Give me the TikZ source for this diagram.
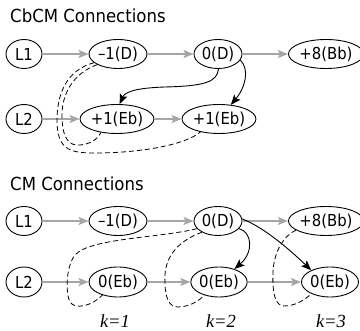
\documentclass[tikz,border=0pt]{standalone}
\usepackage{fontspec}
\setmainfont{DejaVu Sans}
\newfontfamily\nfont[FakeStretch=0.9]{DejaVu Sans}
\newfontfamily\tfont[FakeStretch=0.92]{DejaVu Sans}
\newfontfamily\kfont{Liberation Serif}
\usetikzlibrary{shapes.geometric,arrows.meta}
\begin{document}
\begin{tikzpicture}[x=1pt,y=-1pt,
  ell/.style={draw, ellipse, inner sep=0pt, minimum height=29pt, line width=0.9pt, font=\nfont\fontsize{16.5}{19}\selectfont},
  ttl/.style={anchor=base west, inner sep=0pt, font=\tfont\fontsize{18}{21}\selectfont},
  klab/.style={inner sep=0pt, font=\kfont\itshape\fontsize{18.5}{21}\selectfont},
  garr/.style={draw=gray!70, line width=1.2pt, -{Stealth[length=10pt,width=8pt,inset=2pt]}},
  barr/.style={draw=black, line width=0.9pt, -{Stealth[length=10pt,width=8pt,inset=2pt]}},
  dsh/.style={draw=black, line width=0.8pt, dash pattern=on 5pt off 3pt}]
\useasboundingbox (0,0) rectangle (360,331);
% ---------- top panel ----------
\node[ttl] (t1) at (10,23) {CbCM Connections};
\node[ell, minimum width=36pt] (aL1) at (24,54) {L1};
\node[ell, minimum width=58pt] (am1) at (118,54) {–1(D)};
\node[ell, minimum width=48pt] (ad0) at (218,54) {0(D)};
\node[ell, minimum width=66pt] (ab8) at (326,54) {+8(Bb)};
\node[ell, minimum width=36pt] (aL2) at (24,119) {L2};
\node[ell, minimum width=67pt] (ae1) at (117,119) {+1(Eb)};
\node[ell, minimum width=67pt] (ae2) at (219,119) {+1(Eb)};
\draw[garr] (aL1) -- (am1);
\draw[garr] (am1) -- (ad0);
\draw[garr] (ad0) -- (ab8);
\draw[garr] (aL2) -- (ae1);
\draw[garr] (ae1) -- (ae2);
\draw[barr] (ad0.272) .. controls (217,82) and (205,86) .. (165,87) .. controls (135,88) and (125,92) .. (ae1.80);
\draw[barr] (ad0.-15) .. controls (250,70) and (245,88) .. (ae2.50);
\draw[dsh] (am1.207) .. controls (72,74) and (62,95) .. (62,115) .. controls (62,140) and (70,146) .. (80,145) .. controls (90,144) and (97,140) .. (ae1.220);
\draw[dsh] (am1.200) .. controls (66,70) and (57,95) .. (57,120) .. controls (57,150) and (70,153) .. (95,153) .. controls (140,153) and (185,145) .. (ae2.215);
% ---------- bottom panel ----------
\node[ttl] (t2) at (10,191) {CM Connections};
\node[ell, minimum width=36pt] (bL1) at (24,221) {L1};
\node[ell, minimum width=58pt] (bm1) at (118,221) {–1(D)};
\node[ell, minimum width=48pt] (bd0) at (218,221) {0(D)};
\node[ell, minimum width=66pt] (bb8) at (326,221) {+8(Bb)};
\node[ell, minimum width=36pt, minimum height=30pt] (bL2) at (24,282) {L2};
\node[ell, minimum width=58pt, minimum height=30pt] (bf1) at (118,282) {0(Eb)};
\node[ell, minimum width=56pt, minimum height=30pt] (bf2) at (219,282) {0(Eb)};
\node[ell, minimum width=57pt, minimum height=30pt] (bf3) at (330,282) {0(Eb)};
\draw[garr] (bL1) -- (bm1);
\draw[garr] (bm1) -- (bd0);
\draw[garr] (bd0) -- (bb8);
\draw[garr] (bL2) -- (bf1);
\draw[garr] (bf1) -- (bf2);
\draw[garr] (bf2) -- (bf3);
\draw[barr] (bd0.-20) .. controls (252,232) and (254,252) .. (bf2.40);
\draw[barr] (bd0.5) .. controls (265,228) and (290,250) .. (bf3.148);
\draw[dsh] (bd0.200) .. controls (160,238) and (90,238) .. (75,255) .. controls (65,268) and (66,295) .. (70,302) .. controls (75,310) and (92,306) .. (bf1.220);
\draw[dsh] (bd0.215) .. controls (180,240) and (166,255) .. (165,275) .. controls (164,300) and (170,307) .. (178,307) .. controls (190,307) and (200,300) .. (bf2.222);
\draw[dsh] (bb8.197) .. controls (285,235) and (274,250) .. (273,272) .. controls (272,295) and (276,306) .. (284,306) .. controls (295,306) and (305,300) .. (bf3.212);
\node[klab] (k1) at (115,321) {k=1};
\node[klab] (k2) at (221,321) {k=2};
\node[klab] (k3) at (331,321) {k=3};
\end{tikzpicture}
\end{document}
